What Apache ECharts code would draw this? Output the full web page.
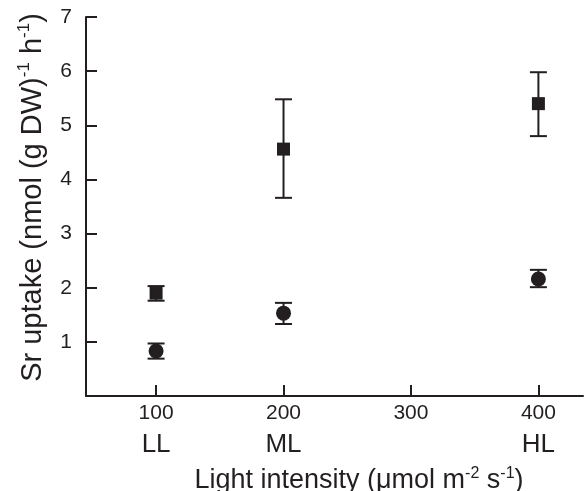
<!DOCTYPE html>
<html>
<head>
<meta charset="utf-8">
<script src="https://cdn.jsdelivr.net/npm/echarts@6/dist/echarts.min.js"></script>
<style>
  html, body { margin: 0; padding: 0; background: #fff; }
  #chart { width: 586px; height: 491px; }
</style>
</head>
<body>
<div id="chart"></div>
<script>
// 光强 (x)
var lightLevels = [100, 200, 400];
// 方块系列：均值和误差棒上下端
var squareMean = [1.9, 4.56, 5.4];
var squareLow = [1.76, 3.66, 4.8];
var squareHigh = [2.03, 5.48, 5.98];
// 圆点系列
var circleMean = [0.83, 1.53, 2.16];
var circleLow = [0.69, 1.33, 2.01];
var circleHigh = [0.97, 1.72, 2.33];
// x 轴刻度和名称
var xTickValues = [100, 200, 300, 400];
var xTickNames = ['LL', 'ML', '', 'HL'];
var yTickValues = [1, 2, 3, 4, 5, 6, 7];

var ink = '#231f20';
var font = 'Liberation Sans, Arial, Helvetica, sans-serif';

function pairs(xs, ys) {
	var out = [];
	for (var i = 0; i < xs.length; i++) out.push([xs[i], ys[i]]);
	return out;
}
function triples(xs, lo, hi) {
	var out = [];
	for (var i = 0; i < xs.length; i++) out.push([xs[i], lo[i], hi[i]]);
	return out;
}

// 画误差棒：竖线 + 上下横帽
function errorBar(params, api) {
	var x = api.value(0);
	var pLo = api.coord([x, api.value(1)]);
	var pHi = api.coord([x, api.value(2)]);
	var half = 8.5;
	var st = { stroke: ink, lineWidth: 2 };
	return {
		type: 'group',
		children: [
			{ type: 'line', shape: { x1: pLo[0], y1: pLo[1], x2: pHi[0], y2: pHi[1] }, style: st },
			{ type: 'line', shape: { x1: pHi[0] - half, y1: pHi[1], x2: pHi[0] + half, y2: pHi[1] }, style: st },
			{ type: 'line', shape: { x1: pLo[0] - half, y1: pLo[1], x2: pLo[0] + half, y2: pLo[1] }, style: st }
		]
	};
}

var chart = echarts.init(document.getElementById('chart'));
chart.setOption({
	animation: false,
	backgroundColor: '#fff',
	textStyle: { fontFamily: font, color: ink },
	grid: { left: 86, right: 3, top: 17, bottom: 95, containLabel: false, outerBoundsMode: 'none' },
	xAxis: {
		type: 'value',
		min: 45,
		max: 435,
		splitLine: { show: false },
		axisLine: { lineStyle: { color: ink, width: 2 } },
		axisTick: { inside: true, length: 11, customValues: xTickValues, lineStyle: { color: ink, width: 2 } },
		axisLabel: {
			customValues: xTickValues,
			margin: 5,
			formatter: function (v) {
				var i = xTickValues.indexOf(v);
				return '{a|' + v + '}\n{b|' + (xTickNames[i] || ' ') + '}';
			},
			rich: {
				a: { fontFamily: font, fontSize: 21, lineHeight: 24, color: ink },
				b: { fontFamily: font, fontSize: 26, lineHeight: 40, color: ink }
			}
		},
		name: '{n|Light intensity (\u03bcmol m}{s|-2}{n| s}{s|-1}{n|)}',
		nameLocation: 'middle',
		nameGap: 70,
		nameTextStyle: {
			padding: [0, 0, 0, 49],
			rich: {
				n: { fontFamily: font, fontSize: 27, lineHeight: 30, color: ink },
				s: { fontFamily: font, fontSize: 16, lineHeight: 30, color: ink, verticalAlign: 'top' }
			}
		}
	},
	yAxis: {
		type: 'value',
		min: 0,
		max: 7,
		interval: 1,
		splitLine: { show: false },
		axisLine: { show: true, lineStyle: { color: ink, width: 2 } },
		axisTick: { show: true, inside: true, length: 11, customValues: yTickValues, lineStyle: { color: ink, width: 2 } },
		axisLabel: {
			customValues: yTickValues,
			margin: 14,
			fontFamily: font,
			fontSize: 21,
			color: ink
		},
		name: '{n|Sr uptake (nmol (g DW)}{s|-1}{n| h}{s|-1}{n|)}',
		nameLocation: 'middle',
		nameGap: 37,
		nameTextStyle: {
			padding: [0, 0, 0, 18],
			rich: {
				n: { fontFamily: font, fontSize: 29, lineHeight: 33, color: ink },
				s: { fontFamily: font, fontSize: 17, lineHeight: 33, color: ink, verticalAlign: 'top' }
			}
		}
	},
	series: [
		{ type: 'custom', renderItem: errorBar, data: triples(lightLevels, squareLow, squareHigh), z: 2 },
		{ type: 'custom', renderItem: errorBar, data: triples(lightLevels, circleLow, circleHigh), z: 2 },
		{ type: 'scatter', symbol: 'rect', symbolSize: 13, itemStyle: { color: ink, opacity: 1 }, data: pairs(lightLevels, squareMean), z: 3 },
		{ type: 'scatter', symbol: 'circle', symbolSize: 15, itemStyle: { color: ink, opacity: 1 }, data: pairs(lightLevels, circleMean), z: 3 }
	]
});
</script>
</body>
</html>
